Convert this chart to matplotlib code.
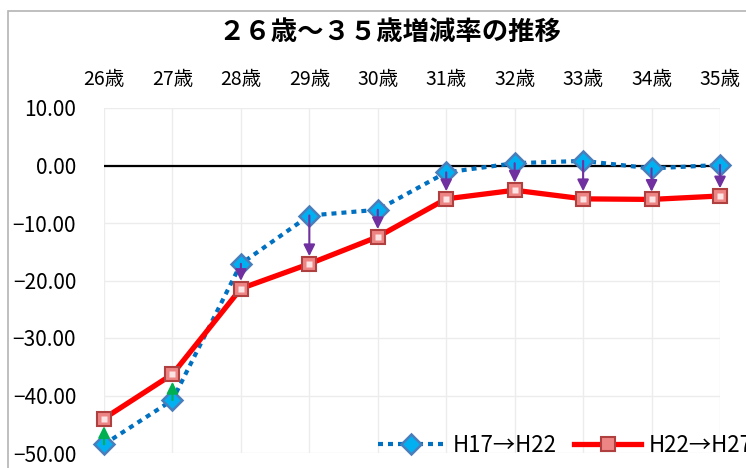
import matplotlib
matplotlib.use("Agg")
import matplotlib.pyplot as plt
from matplotlib.patches import Rectangle
from matplotlib.ticker import FuncFormatter, MultipleLocator

plt.rcParams['font.family'] = ['Noto Sans CJK JP', 'DejaVu Sans']

ages = ['26歳', '27歳', '28歳', '29歳', '30歳', '31歳', '32歳', '33歳', '34歳', '35歳']
h17_h22 = [-48.5, -40.8, -17.1, -8.7, -7.7, -1.2, 0.4, 0.8, -0.5, 0.1]
h22_h27 = [-44.0, -36.3, -21.4, -17.1, -12.4, -5.8, -4.3, -5.8, -5.9, -5.3]
series_names = ['H17→H22', 'H22→H27']
title = '２６歳～３５歳増減率の推移'

W, H = 746, 468
fig = plt.figure(figsize=(W / 100, H / 100), dpi=100)
ax = fig.add_axes([104 / W, 1 - 453 / H, (720 - 104) / W, (453 - 108) / H])

# outer chart border (right/bottom edges are cropped off)
fig.patches.append(Rectangle((8 / W, -0.1), 1.2, 1.1 - 11 / H, transform=fig.transFigure,
                             fill=False, edgecolor='#b4b4b4', lw=1.2, zorder=0))

x = list(range(len(ages)))
ax.set_xlim(0, len(ages) - 1)
ax.set_ylim(-50, 10)
ax.yaxis.set_major_locator(MultipleLocator(10))
ax.yaxis.set_major_formatter(FuncFormatter(lambda v, p: f"{v:.2f}".replace('-', '\u2212')))
ax.set_xticks(x)
ax.set_xticklabels(ages)
ax.xaxis.tick_top()
ax.tick_params(axis='x', length=0, pad=13, labelsize=14)
ax.tick_params(axis='y', length=0, pad=20, labelsize=15)
for s in ax.spines.values():
    s.set_visible(False)
ax.grid(True, color='#ececec', lw=1)
ax.set_axisbelow(True)
ax.axhline(0, color='black', lw=1.6, zorder=2)

blue, = ax.plot(x, h17_h22, color='#0070c0', lw=3, linestyle=(0, (1.2, 1.2)),
                marker='D', markersize=10, markerfacecolor='#00b0f0',
                markeredgecolor='#4a7ebb', markeredgewidth=1.8, clip_on=False, zorder=3)

# arrows from H17→H22 value to H22→H27 value
for i in x:
    c = '#00b050' if h22_h27[i] > h17_h22[i] else '#7030a0'
    ax.annotate('', xy=(i, h22_h27[i]), xytext=(i, h17_h22[i]),
                arrowprops=dict(arrowstyle='-|>', color=c, lw=1.5, shrinkA=0, shrinkB=5.5,
                                mutation_scale=17),
                zorder=4, annotation_clip=False)

red, = ax.plot(x, h22_h27, color='#ff0000', lw=3.8,
               marker='s', markersize=10.5, markerfacecolor='#ee8585',
               markeredgecolor='#b04040', markeredgewidth=1.5, clip_on=False, zorder=5)
ax.plot(x, h22_h27, linestyle='none', marker='s', markersize=4,
        markerfacecolor='#fde4e4', markeredgecolor='none', clip_on=False, zorder=6)

fig.legend([blue, red], series_names, loc='center left', bbox_to_anchor=(378 / W, 1 - 445 / H),
           ncol=2, frameon=False, fontsize=16, borderpad=0, borderaxespad=0,
           handlelength=3.0, handletextpad=0.35, columnspacing=0.8)

fig.text(390 / W, 1 - 32 / H, title, ha='center', va='center', fontsize=19, fontweight='bold')

fig.savefig('out.png', dpi=100)
